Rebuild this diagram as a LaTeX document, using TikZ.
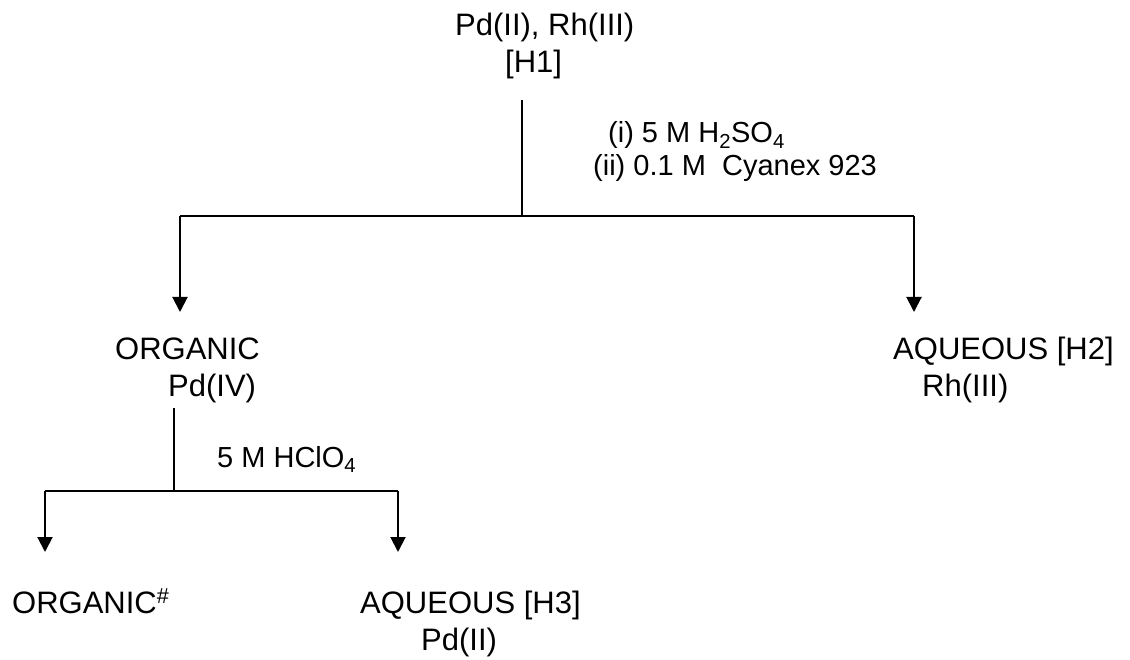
\documentclass[tikz,border=0pt]{standalone}
\usepackage{fontspec}
\setmainfont{Liberation Sans}
\usetikzlibrary{arrows.meta, positioning}
\tikzset{
  % phase / product labels (two lines, left aligned like the scheme)
  ph/.style={anchor=base west, inner sep=0pt, align=left,
    font=\fontsize{31}{37}\selectfont},
  % reagent labels beside the split
  rg/.style={anchor=base west, inner sep=0pt, align=left,
    font=\fontsize{29}{33}\selectfont},
  ln/.style={line width=2pt},
  A/.style={ln, -{Triangle[length=15pt,width=15pt]}},
}
\begin{document}
\begin{tikzpicture}[x=1pt, y=-1pt]
\useasboundingbox (0,0) rectangle (1130,660);

% =====================================================================
% FIRST EXTRACTION  (feed -> organic / aqueous)
% (multi-line nodes sit on the baseline of their last line)
% =====================================================================

\node[ph] (feed) at (455,73) {Pd(II), Rh(III)\\\hspace*{50pt}[H1]};

\node[rg] (reag1) at (593,176) {\hspace*{15pt}(i) 5 M H\textsubscript{2}SO\textsubscript{4}\\(ii) 0.1 M~ Cyanex 923};

\node[ph] (org1) at (115,396) {ORGANIC\\\hspace*{53pt}Pd(IV)};
\node[ph] (aq1) at (893,396) {AQUEOUS [H2]\\\hspace*{29pt}Rh(III)};

\coordinate (s1) at (522,100);
\coordinate (j1) at (522,216);
\coordinate (l1) at (180,216);
\coordinate (r1) at (914,216);
\coordinate (t1) at (180,312);
\coordinate (u1) at (914,312);

\draw[ln] (s1) -- (j1);
\draw[ln] (l1) -- (r1);
\draw[A] (l1) -- (t1);
\draw[A] (r1) -- (u1);

% =====================================================================
% STRIPPING OF THE LOADED ORGANIC  (Pd(IV) -> organic / aqueous)
% =====================================================================

\node[rg] (reag2) at (217,467) {5 M HClO\textsubscript{4}};

\node[ph] (org2) at (12,613) {ORGANIC\textsuperscript{\#}};
\node[ph] (aq2) at (360,650) {AQUEOUS [H3]\\\hspace*{61pt}Pd(II)};

\coordinate (s2) at (174,408);
\coordinate (j2) at (174,491);
\coordinate (l2) at (45,491);
\coordinate (r2) at (398,491);
\coordinate (t2) at (45,552);
\coordinate (u2) at (398,552);

\draw[ln] (s2) -- (j2);
\draw[ln] (l2) -- (r2);
\draw[A] (l2) -- (t2);
\draw[A] (r2) -- (u2);

\end{tikzpicture}
\end{document}
